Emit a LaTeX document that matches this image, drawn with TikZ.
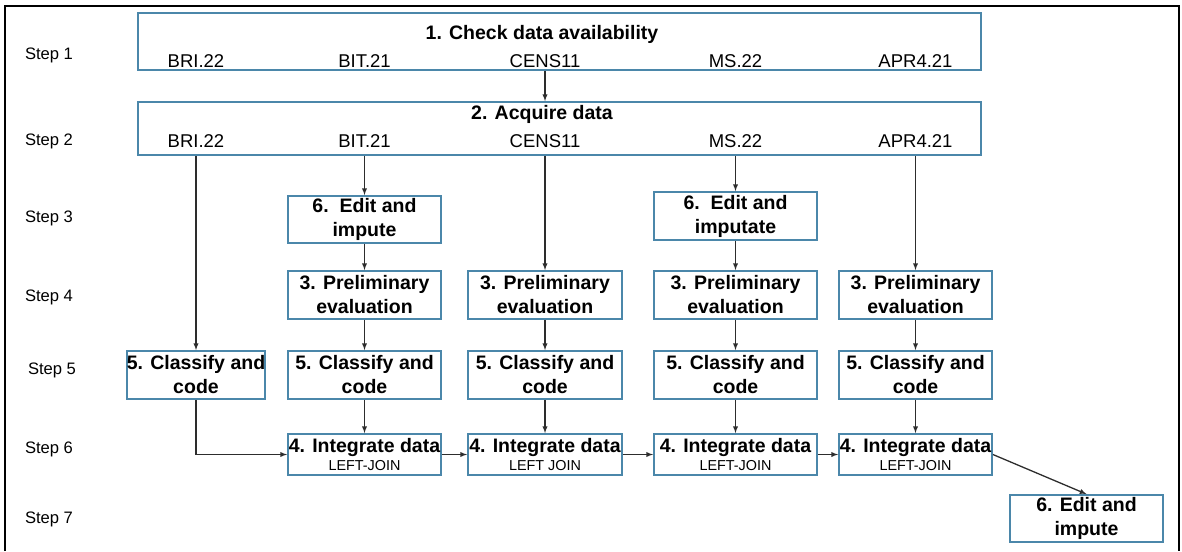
\documentclass[tikz,border=0pt]{standalone}
\usepackage{fontspec}
\setmainfont{Liberation Sans}
\usetikzlibrary{positioning, arrows}

\definecolor{boxblue}{RGB}{75,135,170}
\definecolor{arrowgray}{RGB}{45,45,45}
\newcommand{\joinfont}{\fontsize{14.4}{17}\selectfont\mdseries}

\begin{document}
\begin{tikzpicture}[x=1pt,y=-1pt,on grid,>=latex,
        box/.style={draw=boxblue,line width=1.8pt,align=center,inner sep=0pt,
            minimum height=48pt,font=\fontsize{19.5}{24}\selectfont\bfseries},
        bigbox/.style={draw=boxblue,line width=1.8pt,inner sep=0pt,minimum width=843pt},
        head/.style={font=\fontsize{19.5}{23.5}\selectfont\bfseries},
        src/.style={font=\fontsize{18.5}{22}\selectfont},
        steplabel/.style={font=\fontsize{16.6}{20}\selectfont},
        conn/.style={draw=arrowgray,line width=1.3pt},
        every edge/.style={conn}]
    \useasboundingbox (0,0) rectangle (1182,551);
    \draw[line width=2.5pt] (5,551) -- (5,6) -- (1179,6) -- (1179,551);

    % steps
    \foreach \i/\x/\y in {1/49/55, 2/49/141, 3/49/218, 4/49/297, 5/52/370, 6/49/449, 7/49/519}
        \node[steplabel] (s\i) at (\x,\y) {Step \i};

    % top boxes
    \node[bigbox,minimum height=57pt] (chk) at (559.5,41.5) {};
    \node[head] (chkt) at (542,34) {1. Check data availability};
    \node[bigbox,minimum height=53pt] (acq) at (559.5,128.5) {};
    \node[head] (acqt) at (542,114) {2. Acquire data};
    \foreach \n/\x/\t in {bri/196/BRI.22, bit/364.5/BIT.21, cens/545/CENS11, ms/735.5/MS.22, apr/915.5/APR4.21}{
        \node[src] (\n1) at (\x,61) {\t};
        \node[src] (\n2) at (\x,141) {\t};
    }

    % columns
    \node[box,minimum width=153pt,minimum height=47pt] (edB) at (364.5,219.5) {6.\ \ Edit and\\impute};
    \node[box,minimum width=163pt] (edD) at (735.5,216) {6.\ \ Edit and\\imputate};

    \node[box,minimum width=153pt] (prB) [below=75.5pt of edB] {3. Preliminary\\evaluation};
    \node[box,minimum width=154pt] (prC) at (545,295) {3. Preliminary\\evaluation};
    \node[box,minimum width=163pt] (prD) [below=79pt of edD] {3. Preliminary\\evaluation};
    \node[box,minimum width=153pt] (prE) at (915.5,295) {3. Preliminary\\evaluation};

    \node[box,minimum width=138pt] (clA) at (196,375) {5. Classify and\\code};
    \node[box,minimum width=153pt] (clB) [below=80pt of prB] {5. Classify and\\code};
    \node[box,minimum width=154pt] (clC) [below=80pt of prC] {5. Classify and\\code};
    \node[box,minimum width=163pt] (clD) [below=80pt of prD] {5. Classify and\\code};
    \node[box,minimum width=153pt] (clE) [below=80pt of prE] {5. Classify and\\code};

    \node[box,minimum width=153pt,minimum height=41pt] (inB) [below=79.5pt of clB] {4. Integrate data\\[-6pt]{\joinfont LEFT-JOIN}};
    \node[box,minimum width=154pt,minimum height=41pt] (inC) [below=79.5pt of clC] {4. Integrate data\\[-6pt]{\joinfont LEFT JOIN}};
    \node[box,minimum width=163pt,minimum height=41pt] (inD) [below=79.5pt of clD] {4. Integrate data\\[-6pt]{\joinfont LEFT-JOIN}};
    \node[box,minimum width=153pt,minimum height=41pt] (inE) [below=79.5pt of clE] {4. Integrate data\\[-6pt]{\joinfont LEFT-JOIN}};

    \node[box,minimum width=153pt,minimum height=47pt] (fin) at (1086.5,518.5) {6. Edit and\\impute};

    \path[->]
        (chk.south -| cens1) edge (acq.north -| cens1)
        (acq.south -| bri2) edge (clA)
        (acq.south -| bit2) edge (edB)
        (acq.south -| cens2) edge (prC)
        (acq.south -| ms2) edge (edD)
        (acq.south -| apr2) edge (prE)
        (edB) edge (prB)
        (edD) edge (prD)
        (prB) edge (clB)
        (prC) edge (clC)
        (prD) edge (clD)
        (prE) edge (clE)
        (clB) edge (inB)
        (clC) edge (inC)
        (clD) edge (inD)
        (clE) edge (inE)
        (inB) edge (inC)
        (inC) edge (inD)
        (inD) edge (inE)
        (inE.east) edge (fin.north);
    \draw[->,conn] (clA.south) |- (inB.west);
\end{tikzpicture}
\end{document}
